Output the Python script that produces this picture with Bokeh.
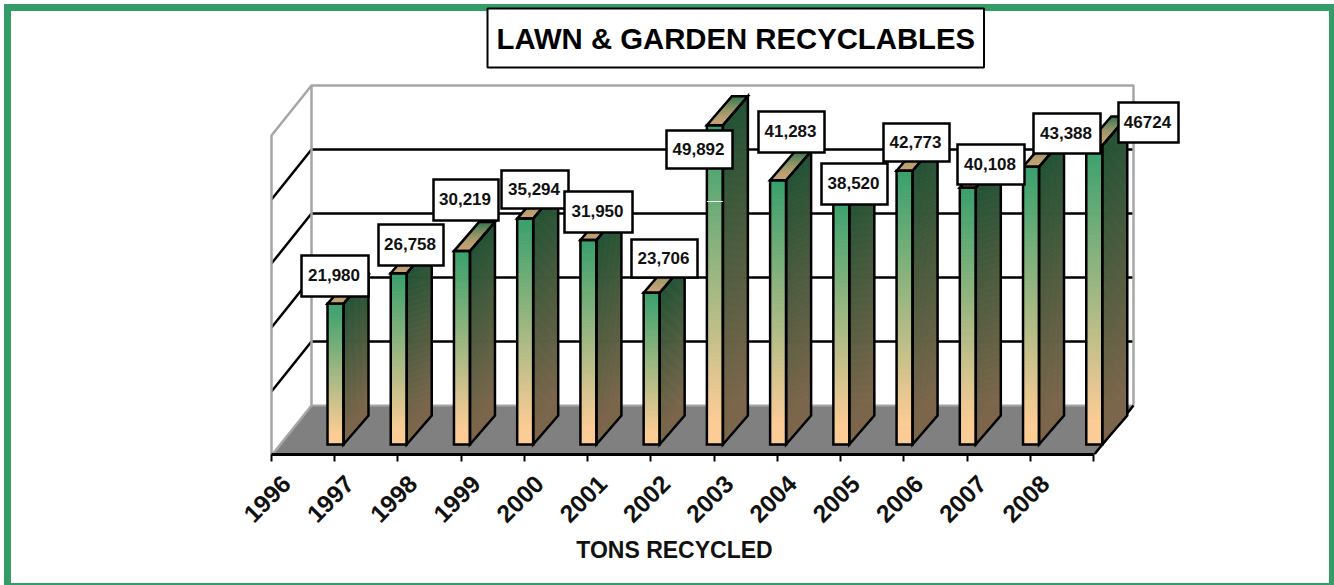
from bokeh.embed import file_html
from bokeh.resources import INLINE
from bokeh.plotting import figure
from bokeh.models import Range1d, LinearAxis, FixedTicker, Title, NumeralTickFormatter
from bokeh.core.properties import value

years = [1996, 1997, 1998, 1999, 2000, 2001, 2002, 2003, 2004, 2005, 2006, 2007, 2008]
tons = [21980, 26758, 30219, 35294, 31950, 23706, 49892, 41283, 38520, 42773, 40108, 43388, 46724]
value_labels = ["21,980", "26,758", "30,219", "35,294", "31,950", "23,706", "49,892",
                "41,283", "38,520", "42,773", "40,108", "43,388", "46724"]
grid_values = [10000, 20000, 30000, 40000]
wall_top = 50000
title_text = "LAWN & GARDEN RECYCLABLES"
axis_title = "TONS RECYCLED"

# page layout (screen px)
W, H = 1334, 585
F_L, F_R, F_T, F_B = 20, 1328, 72, 454
PX_YEAR0, PX_PER_YEAR = 271.0, 63.23
PY_ZERO, PX_PER_TON = 444.0, 0.0064

def X(px):
    return 1996 + (px - PX_YEAR0) / PX_PER_YEAR
def V(py):
    return (PY_ZERO - py) / PX_PER_TON

# label boxes, in px: left, right, top, bottom
box_l = [301, 378, 433, 501, 564, 631, 666, 758, 821, 883, 957, 1033, 1118]
box_r = [368, 443, 498, 568, 632, 697, 732, 824, 887, 949, 1024, 1100, 1178]
box_t = [255, 224, 179, 170, 191, 239, 130, 111, 163, 123, 144, 113, 102]
box_b = [296, 265, 220, 208, 232, 277, 168, 152, 204, 161, 184, 153, 142]

p = figure(width=W, height=H, output_backend="svg", toolbar_location=None,
           x_range=Range1d(X(F_L), X(F_R)), y_range=Range1d(V(F_B), V(F_T)),
           x_axis_location=None, y_axis_location=None,
           min_border_left=F_L, min_border_right=W - F_R, min_border_top=F_T, min_border_bottom=H - F_B)
p.grid.visible = False
p.outline_line_color = None
p.background_fill_color = "white"
p.border_fill_color = None

# outer green frame, behind the transparent canvas
GREEN = "#359b68"
g = f"linear-gradient({GREEN},{GREEN})"
p.styles = {
    "background-color": "white",
    "background-image": f"{g},{g},{g},{g}",
    "background-repeat": "no-repeat",
    "background-size": "7px 581px,5px 581px,1330px 7px,1330px 2px",
    "background-position": "4px 4px,1329px 4px,4px 4px,4px 583px",
}

# title
p.add_layout(Title(text=title_text, align="left", offset=467, text_font="Liberation Sans", text_font_style="bold",
                   text_font_size="29.3px", text_color="black", background_fill_color="white",
                   border_line_color="black", border_line_width=2, padding=(9, 13), standoff=10), "above")

# room: floor, walls, grid
GRAY = "#a6a6a6"
BACK_DX, BACK_DY = 40, 50
FRONT_Y = 455
back_off = (PY_ZERO - (FRONT_Y - BACK_DY)) / PX_PER_TON
back_L, back_R = PX_YEAR0 + BACK_DX, 1133
front_R = 1093
p.patch([X(PX_YEAR0), X(front_R), X(back_R), X(back_L)],
        [V(FRONT_Y), V(FRONT_Y), V(FRONT_Y - BACK_DY), V(FRONT_Y - BACK_DY)],
        fill_color="#808080", line_color=None)
grid_xs, grid_ys = [], []
for gv in grid_values:
    y_back = gv + back_off
    y_front = y_back - BACK_DY / PX_PER_TON
    grid_xs.append([X(PX_YEAR0), X(back_L), X(back_R)])
    grid_ys.append([y_front, y_back, y_back])
p.multi_line(grid_xs, grid_ys, line_color="black", line_width=2.5)
top_back = wall_top + back_off
top_front = top_back - BACK_DY / PX_PER_TON
p.line([X(PX_YEAR0), X(PX_YEAR0), X(back_L), X(back_R), X(back_R)],
       [V(FRONT_Y), top_front, top_back, top_back, V(FRONT_Y - BACK_DY)], line_color=GRAY, line_width=2.5)
p.line([X(PX_YEAR0), X(back_L), X(back_L)], [V(FRONT_Y), V(FRONT_Y - BACK_DY), top_back], line_color=GRAY, line_width=2.5)
p.line([X(back_L), X(back_R)], [V(FRONT_Y - BACK_DY), V(FRONT_Y - BACK_DY)], line_color=GRAY, line_width=2)
p.line([X(front_R), X(back_R)], [V(FRONT_Y), V(FRONT_Y - BACK_DY)], line_color="black", line_width=2.5)

# bars
def mix(c1, c2, t):
    t = min(1.0, t)
    return "#%02x%02x%02x" % tuple(round(a + (b - a) * t) for a, b in zip(c1, c2))
FRONT_TOP, FRONT_BOT = (0x37, 0xa0, 0x6c), (0xfc, 0xcc, 0x96)
SIDE_TOP, SIDE_BOT = (0x23, 0x52, 0x34), (0x7c, 0x66, 0x4b)
LID_FRONT, LID_BACK = (0xc6, 0xa2, 0x74), (0x30, 0x78, 0x50)
BAR_OFF, BAR_W = 56.0 / PX_PER_YEAR, 16.0 / PX_PER_YEAR
DX, DV = 25.0 / PX_PER_YEAR, 29.0 / PX_PER_TON
STEPS = 70
sx, sy, sc = [], [], []
ox, oy = [], []
for yr, t in zip(years, tons):
    x0, x1 = yr + BAR_OFF, yr + BAR_OFF + BAR_W
    for k in range(STEPS):
        a, b = k / STEPS, (k + 1) / STEPS
        v0, v1 = t * (1 - a), t * (1 - b)
        c = mix(FRONT_TOP, FRONT_BOT, (a + b) / 2 * 1.08)
        sx.append([x0, x1, x1, x0]); sy.append([v0, v0, v1, v1]); sc.append(c)
        c = mix(SIDE_TOP, SIDE_BOT, (a + b) / 2 * 1.08)
        sx.append([x1, x1 + DX, x1 + DX, x1]); sy.append([v0, v0 + DV, v1 + DV, v1]); sc.append(c)
    for k in range(24):
        a, b = k / 24, (k + 1) / 24
        c = mix(LID_FRONT, LID_BACK, ((a + b) / 2) ** 1.8)
        sx.append([x0 + DX * a, x1 + DX * a, x1 + DX * b, x0 + DX * b])
        sy.append([t + DV * a, t + DV * a, t + DV * b, t + DV * b]); sc.append(c)
    ox += [[x0, x1, x1, x0], [x1, x1 + DX, x1 + DX, x1], [x0, x1, x1 + DX, x0 + DX]]
    oy += [[t, t, 0, 0], [t, t + DV, DV, 0], [t, t, t + DV, t + DV]]
p.patches(sx, sy, fill_color=sc, line_color=sc, line_width=1)
p.patches(ox, oy, fill_color=None, line_color="black", line_width=2.5, line_join="miter")
# small white flaw across the tallest bar
tall = tons.index(max(tons))
p.line([years[tall] + BAR_OFF, years[tall] + BAR_OFF + BAR_W], [V(201), V(201)], line_color="white", line_width=1)

# value boxes
p.quad(left=[X(v) for v in box_l], right=[X(v) for v in box_r], top=[V(v) for v in box_t], bottom=[V(v) for v in box_b],
       fill_color="white", line_color="black", line_width=2.5, line_join="miter")
p.text(x=[X((l + r) / 2 - 1) for l, r in zip(box_l, box_r)], y=[V((t + b) / 2 - 1) for t, b in zip(box_t, box_b)],
       text=value_labels, text_font=value("Liberation Sans"), text_font_style="bold", text_font_size="17px",
       text_align="center", text_baseline="middle", text_color="#111111")

# tick-only axis on the floor edge
tick_values = years + [years[-1] + 1]
tick_axis = LinearAxis(ticker=FixedTicker(ticks=tick_values), bounds=(years[0], years[-1] + 1),
                       major_tick_in=0, major_tick_out=7, major_tick_line_width=2, major_tick_line_color="black",
                       minor_tick_line_color=None, axis_line_width=3, axis_line_color="black",
                       major_label_overrides={t: "" for t in tick_values}, major_label_standoff=0)
p.add_layout(tick_axis, "below")

# label axis: same years, shifted to sit right of each tick
LABEL_SHIFT = 15.0 / PX_PER_YEAR
p.extra_x_ranges["labels"] = Range1d(X(F_L) - LABEL_SHIFT, X(F_R) - LABEL_SHIFT)
label_axis = LinearAxis(x_range_name="labels", ticker=FixedTicker(ticks=years), bounds=(years[0], years[-1]),
                        formatter=NumeralTickFormatter(format="0"),
                        major_tick_line_color=None, minor_tick_line_color=None, axis_line_color=None,
                        major_label_orientation=0.785, major_label_text_font="Liberation Sans",
                        major_label_text_font_style="bold", major_label_text_font_size="24.5px",
                        major_label_text_color="#111111", major_label_standoff=12,
                        axis_label=axis_title, axis_label_text_font="Liberation Sans",
                        axis_label_text_font_style="bold", axis_label_text_font_size="23px",
                        axis_label_text_color="#111111", axis_label_standoff=4)
p.add_layout(label_axis, "below")

open("out.html", "w").write(file_html(p, INLINE))
